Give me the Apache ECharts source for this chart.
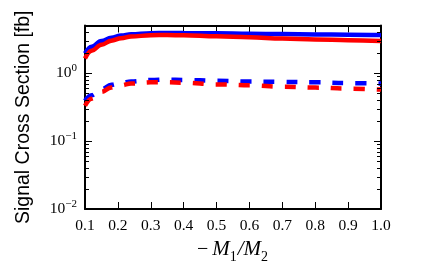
<!DOCTYPE html>
<html>
<head>
<meta charset="utf-8">
<script src="https://cdn.jsdelivr.net/npm/echarts@6/dist/echarts.min.js"></script>
<style>html,body{margin:0;padding:0;background:#fff}#c{width:425px;height:263px}</style>
</head>
<body>
<div id="c"></div>
<script>
// ---- data ----
const xValues   = [0.1, 0.12, 0.15, 0.18, 0.21, 0.24, 0.3, 0.35, 0.4, 0.5, 0.6, 0.7, 0.8, 0.9, 1.0];
const blueSolid = [1.94, 2.44, 2.95, 3.30, 3.56, 3.72, 3.86, 3.88, 3.87, 3.83, 3.78, 3.74, 3.70, 3.66, 3.62];
const redSolid  = [1.64, 2.13, 2.60, 2.99, 3.26, 3.44, 3.60, 3.63, 3.58, 3.46, 3.35, 3.22, 3.12, 3.04, 2.97];
const blueDash  = [0.39, 0.47, 0.58, 0.67, 0.72, 0.75, 0.79, 0.80, 0.79, 0.77, 0.75, 0.74, 0.73, 0.71, 0.70];
const redDash   = [0.33, 0.42, 0.53, 0.61, 0.66, 0.70, 0.73, 0.73, 0.72, 0.68, 0.66, 0.63, 0.61, 0.59, 0.57];
const xTicks = [0.1, 0.2, 0.3, 0.4, 0.5, 0.6, 0.7, 0.8, 0.9, 1.0];
const yMin = 0.01, yMax = 5;
const xMin = 0.1, xMax = 1.0;

const pair = (ys) => xValues.map((x, i) => [x, ys[i]]);

// minor log ticks (2..9 x 10^k) within the range
const minorTicks = [];
for (let e = -2; e <= 0; e++) {
  for (let m = 2; m <= 9; m++) {
    const v = m * Math.pow(10, e);
    if (v < yMax) minorTicks.push([xMin, v]);
  }
}

const serif = 'Liberation Serif';
const black = '#000';

const chart = echarts.init(document.getElementById('c'), null, {renderer: 'canvas'});

function yLabel(v) {
  const e = Math.round(Math.log10(v));
  if (Math.abs(v - Math.pow(10, e)) > 1e-9 * Math.pow(10, e)) return '';
  const s = e < 0 ? '\u2212' + (-e) : String(e);
  return '{b|10}{s|' + s + '}';
}

const lineBase = {type: 'line', showSymbol: false, symbol: 'none', smooth: 0.4, smoothMonotone: 'x', xAxisIndex: 0, yAxisIndex: 0, z: 3};

chart.setOption({
  animation: false,
  grid: {left: 85, right: 44, top: 25.5, bottom: 54, containLabel: false, outerBoundsMode: 'none'},
  xAxis: [{
    type: 'value', min: xMin, max: xMax, interval: 0.1, position: 'bottom',
    axisLine: {show: true, lineStyle: {color: black, width: 2}},
    axisTick: {show: true, inside: true, length: 7, lineStyle: {color: black, width: 1}},
    splitLine: {show: false},
    axisLabel: {margin: 9, color: black, fontFamily: serif, fontSize: 15.5,
      formatter: (v) => v.toFixed(1)},
    name: '{n|\u2212\u2009}{m|M}{s|1}{m|/M}{s|2}',
    nameLocation: 'middle', nameGap: 26,
    nameTextStyle: {
      rich: {
        n: {fontFamily: serif, fontSize: 20, color: black, lineHeight: 24, verticalAlign: 'middle'},
        m: {fontFamily: serif, fontStyle: 'italic', fontSize: 21, color: black, lineHeight: 24, verticalAlign: 'middle'},
        s: {fontFamily: serif, fontSize: 14, color: black, lineHeight: 14, verticalAlign: 'bottom', padding: [0, 1, -3, 0]}
      }
    }
  }, {
    type: 'value', min: xMin, max: xMax, interval: 0.1, position: 'top',
    axisLine: {show: true, lineStyle: {color: black, width: 2}},
    axisTick: {show: true, inside: true, length: 7, lineStyle: {color: black, width: 1}},
    splitLine: {show: false},
    axisLabel: {show: false}
  }],
  yAxis: [{
    type: 'log', logBase: 10, min: yMin, max: yMax, position: 'left',
    axisLine: {show: true, lineStyle: {color: black, width: 2}},
    axisTick: {show: true, inside: true, length: 7, lineStyle: {color: black, width: 1}},
    splitLine: {show: false},
    axisLabel: {margin: 8, showMaxLabel: false, formatter: yLabel,
      rich: {
        b: {fontFamily: serif, fontSize: 15.5, color: black, lineHeight: 20, verticalAlign: 'middle'},
        s: {fontFamily: serif, fontSize: 11, color: black, lineHeight: 11, verticalAlign: 'top', padding: [0, 0, 0, 0]}
      }},
    name: 'Signal Cross Section [fb]',
    nameLocation: 'middle', nameGap: 51, nameRotate: 90,
    nameTextStyle: {fontFamily: 'Liberation Sans', fontSize: 19.5, color: black}
  }, {
    type: 'log', logBase: 10, min: yMin, max: yMax, position: 'right',
    axisLine: {show: true, lineStyle: {color: black, width: 2}},
    axisTick: {show: true, inside: true, length: 7, lineStyle: {color: black, width: 1}},
    splitLine: {show: false},
    axisLabel: {show: false}
  }],
  series: [
    Object.assign({}, lineBase, {name: 'blue solid', data: pair(blueSolid),
      lineStyle: {color: '#0000ff', width: 4.5, type: 'solid'}}),
    Object.assign({}, lineBase, {name: 'red solid', data: pair(redSolid),
      lineStyle: {color: '#ff0000', width: 4.5, type: 'solid'}}),
    Object.assign({}, lineBase, {name: 'blue dashed', data: pair(blueDash),
      lineStyle: {color: '#0000ff', width: 4.5, type: [11, 12]}}),
    Object.assign({}, lineBase, {name: 'red dashed', data: pair(redDash),
      lineStyle: {color: '#ff0000', width: 4.5, type: [11, 12]}}),
    {
      type: 'custom', name: 'minor ticks', xAxisIndex: 0, yAxisIndex: 0, z: 5,
      silent: true, clip: false, data: minorTicks,
      renderItem: function (params, api) {
        const v = api.value(1);
        const pl = api.coord([xMin, v]);
        const pr = api.coord([xMax, v]);
        const st = {stroke: black, lineWidth: 1};
        return {type: 'group', children: [
          {type: 'line', shape: {x1: pl[0], y1: Math.round(pl[1]) + 0.5, x2: pl[0] + 4, y2: Math.round(pl[1]) + 0.5}, style: st},
          {type: 'line', shape: {x1: pr[0], y1: Math.round(pr[1]) + 0.5, x2: pr[0] - 4, y2: Math.round(pr[1]) + 0.5}, style: st}
        ]};
      }
    }
  ]
});
</script>
</body>
</html>
